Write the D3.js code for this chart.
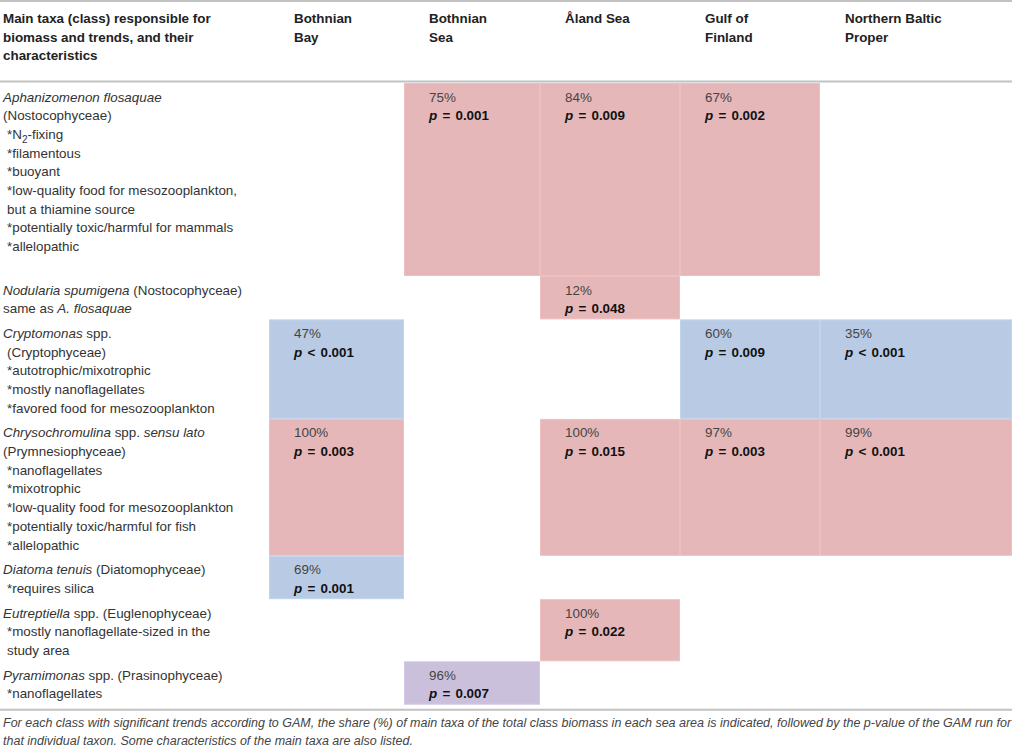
<!DOCTYPE html>
<html>
<head>
<meta charset="utf-8" />
<title>Main taxa responsible for biomass trends</title>
<style>
html, body {
  margin: 0;
  padding: 0;
  background-color: #fff;
}
svg {
  display: block;
  font-family: "Liberation Sans", Arial, Helvetica, sans-serif;
}
</style>
</head>

<body>
<div id="chart"></div>

<script src="https://d3js.org/d3.v7.min.js"></script>
<script>

      // ---------------------------------------------------------
      // Data

      const areas = ['Bothnian Bay', 'Bothnian Sea', 'Åland Sea', 'Gulf of Finland', 'Northern Baltic Proper']
      const areaHeaders = [['Bothnian', 'Bay'], ['Bothnian', 'Sea'], ['Åland Sea'], ['Gulf of', 'Finland'], ['Northern Baltic', 'Proper']]
      const firstHeader = ['Main taxa (class) responsible for', 'biomass and trends, and their', 'characteristics']

      const taxa = ['Aphanizomenon flosaquae', 'Nodularia spumigena', 'Cryptomonas', 'Chrysochromulina',
        'Diatoma tenuis', 'Eutreptiella', 'Pyramimonas']

      // description lines, a leading space means the line is indented
      const descriptions = [
        ['<i>Aphanizomenon flosaquae</i>', '(Nostocophyceae)', ' *N<sub>2</sub>-fixing', ' *filamentous', ' *buoyant',
          ' *low-quality food for mesozooplankton,', ' but a thiamine source', ' *potentially toxic/harmful for mammals',
          ' *allelopathic', ''],
        ['<i>Nodularia spumigena</i> (Nostocophyceae)', 'same as <i>A. flosaquae</i>'],
        ['<i>Cryptomonas</i> spp.', ' (Cryptophyceae)', ' *autotrophic/mixotrophic', ' *mostly nanoflagellates',
          ' *favored food for mesozooplankton'],
        ['<i>Chrysochromulina</i> spp. <i>sensu lato</i>', '(Prymnesiophyceae)', ' *nanoflagellates', ' *mixotrophic',
          ' *low-quality food for mesozooplankton', ' *potentially toxic/harmful for fish', ' *allelopathic'],
        ['<i>Diatoma tenuis</i> (Diatomophyceae)', ' *requires silica'],
        ['<i>Eutreptiella</i> spp. (Euglenophyceae)', ' *mostly nanoflagellate-sized in the', ' study area'],
        ['<i>Pyramimonas</i> spp. (Prasinophyceae)', ' *nanoflagellates']
      ]

      // share (%) of the main taxon in the class biomass, per sea area
      const shareByArea = [
        [null, 75, 84, 67, null],
        [null, null, 12, null, null],
        [47, null, null, 60, 35],
        [100, null, 100, 97, 99],
        [69, null, null, null, null],
        [null, null, 100, null, null],
        [null, 96, null, null, null]
      ]

      // p-value of the GAM run
      const pByArea = [
        [null, '= 0.001', '= 0.009', '= 0.002', null],
        [null, null, '= 0.048', null, null],
        ['< 0.001', null, null, '= 0.009', '< 0.001'],
        ['= 0.003', null, '= 0.015', '= 0.003', '< 0.001'],
        ['= 0.001', null, null, null, null],
        [null, null, '= 0.022', null, null],
        [null, '= 0.007', null, null, null]
      ]

      const trendByTaxon = ['increase', 'increase', 'decrease', 'increase', 'decrease', 'increase', 'other']
      const trendNames = ['increase', 'decrease', 'other']

      const footnote = [
        'For each class with significant trends according to GAM, the share (%) of main taxa of the total class biomass in each sea area is indicated, followed by the p-value of the GAM run for',
        'that individual taxon. Some characteristics of the main taxa are also listed.'
      ]

      // ---------------------------------------------------------
      // Layout

      const w = 1012
      const h = 747
      const lineH = 18.7
      const fontSize = 13.4
      const headerTop = 1
      const bodyTop = 83
      const colEdges = [269, 404, 540, 680, 820, w]
      const textInset = 25

      const colorScale = d3.scaleOrdinal()
        .domain(trendNames)
        .range(['#e5b7b8', '#b9cbe4', '#cbc0dc'])

      const x = d3.scaleOrdinal()
        .domain(areas)
        .range(colEdges.slice(0, -1))

      const colWidth = d3.scaleOrdinal()
        .domain(areas)
        .range(d3.pairs(colEdges).map(p => p[1] - p[0]))

      const rowHeights = descriptions.map(d => d.length * lineH + 6)
      const rowTops = [bodyTop].concat(Array.from(d3.cumsum(rowHeights), v => bodyTop + v))
      const y = d3.scaleOrdinal().domain(taxa).range(rowTops.slice(0, -1))
      const bodyBottom = rowTops[rowTops.length - 1]

      const svg = d3.select('#chart').append('svg')
        .attr('width', w)
        .attr('height', h)

      // --------------------------------------------------------
      // Rules

      svg.selectAll('line.rule')
        .data([headerTop, bodyTop - 1.5, bodyBottom + 5])
        .enter().append('line')
        .attr('class', 'rule')
        .attr('x1', 0)
        .attr('x2', w)
        .attr('y1', d => d)
        .attr('y2', d => d)
        .attr('stroke', '#c2c2c2')
        .attr('stroke-width', 2)

      // --------------------------------------------------------
      // Header

      const headers = [{ x: 3, lines: firstHeader }].concat(
        areas.map((a, i) => ({ x: x(a) + textInset, lines: areaHeaders[i] })))

      svg.selectAll('text.header')
        .data(headers)
        .enter().append('text')
        .attr('class', 'header')
        .attr('font-size', fontSize)
        .attr('font-weight', 'bold')
        .attr('fill', '#222')
        .each(function(d) {
          d3.select(this).selectAll('tspan')
            .data(d.lines)
            .enter().append('tspan')
            .attr('x', d.x)
            .attr('y', (l, i) => headerTop + 22 + i * 18.5)
            .text(l => l)
        })

      // --------------------------------------------------------
      // Coloured cells

      const cells = []
      taxa.forEach((t, ti) => {
        areas.forEach((a, ai) => {
          if (shareByArea[ti][ai] !== null) {
            cells.push({ taxon: t, area: a, share: shareByArea[ti][ai], p: pByArea[ti][ai], trend: trendByTaxon[ti], row: ti })
          }
        })
      })

      svg.selectAll('rect.cell')
        .data(cells)
        .enter().append('rect')
        .attr('class', 'cell')
        .attr('x', d => x(d.area) + 0.5)
        .attr('y', d => y(d.taxon) + 0.5)
        .attr('width', d => colWidth(d.area) - 1)
        .attr('height', d => rowHeights[d.row] - 1)
        .attr('fill', d => colorScale(d.trend))
        .attr('stroke', d => d3.color(colorScale(d.trend)).brighter(0.12))
        .attr('stroke-width', 1)

      const cellText = svg.selectAll('g.cellText')
        .data(cells)
        .enter().append('g')
        .attr('class', 'cellText')
        .attr('transform', d => `translate(${x(d.area) + textInset},${y(d.taxon)})`)

      cellText.append('text')
        .attr('y', 18.5)
        .attr('font-size', fontSize)
        .attr('fill', '#444')
        .text(d => d.share + '%')

      const pText = cellText.append('text')
        .attr('y', 18.5 + lineH)
        .attr('font-size', fontSize)
        .attr('font-weight', 'bold')
        .attr('word-spacing', 1.5)
        .attr('fill', '#111')
      pText.append('tspan')
        .attr('font-style', 'italic')
        .text('p')
      pText.append('tspan')
        .attr('xml:space', 'preserve')
        .text(d => ' ' + d.p)

      // --------------------------------------------------------
      // Taxon descriptions

      function addRich(sel, str) {
        const parts = str.split(/(<i>.*?<\/i>|<sub>.*?<\/sub>)/).filter(s => s.length)
        let shift = 0
        parts.forEach(p => {
          let span
          if (p.startsWith('<i>')) {
            span = sel.append('tspan').attr('font-style', 'italic').text(p.slice(3, -4))
          } else if (p.startsWith('<sub>')) {
            span = sel.append('tspan').attr('font-size', 10).text(p.slice(5, -6))
            span.attr('dy', 4)
            shift = -4
            return
          } else {
            span = sel.append('tspan').text(p)
          }
          if (shift) {
            span.attr('dy', shift)
            shift = 0
          }
        })
      }

      taxa.forEach((t, ti) => {
        const g = svg.append('g')
          .attr('transform', `translate(0,${y(t)})`)
        g.selectAll('text')
          .data(descriptions[ti].map((d, i) => ({ line: d, i: i })).filter(d => d.line.trim().length))
          .enter().append('text')
          .attr('x', d => d.line.startsWith(' ') ? 7 : 3)
          .attr('y', d => 18.5 + d.i * lineH)
          .attr('font-size', fontSize)
          .attr('fill', '#333')
          .each(function(d) { addRich(d3.select(this), d.line.trim()) })
      })

      // --------------------------------------------------------
      // Footnote

      svg.selectAll('text.foot')
        .data(footnote)
        .enter().append('text')
        .attr('class', 'foot')
        .attr('x', 3)
        .attr('y', (d, i) => 727 + i * 17.5)
        .attr('font-size', 12.5)
        .attr('font-style', 'italic')
        .attr('fill', '#444')
        .text(d => d)

</script>
</body>
</html>
